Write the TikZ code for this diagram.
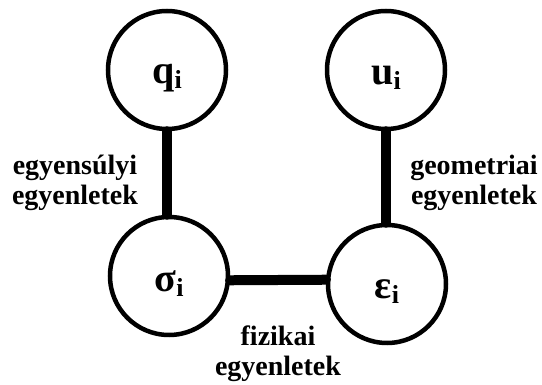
\documentclass[tikz,border=0pt]{standalone}
\usepackage{fontspec}
\setmainfont{Liberation Serif}
\usepackage{tikz}
\usetikzlibrary{positioning}

% subscript index, set low and large
\newcommand{\lowidx}[1]{\raisebox{-5pt}{\fontsize{26}{26}\selectfont #1}}
% variable name in a circle, pushed a bit below the centre
\newcommand{\varlab}[2]{\raisebox{-8pt}[\height][\depth]{#1\lowidx{#2}}}

\begin{document}
\begin{tikzpicture}[x=1pt,y=-1pt,
  vr/.style={draw,circle,line width=4.5pt,minimum size=118pt,inner sep=0pt,
    font=\fontsize{40}{40}\selectfont\bfseries},
  link/.style={line width=10pt,line cap=round},
  eq/.style={align=center,inner sep=0pt,font=\fontsize{28}{30}\selectfont\bfseries}]
\useasboundingbox (0,0) rectangle (542,385);
\node[vr] (q) at (167,70) {\varlab{q}{i}};
\node[vr] (u) at (386,70) {\varlab{u}{i}};
\node[vr] (s) at (169,276) {\varlab{σ}{i}};
\node[vr] (e) at (387,284) {\varlab{ε}{i}};
\draw[link] (q.south) -- (q.south |- s.north);
\draw[link] (u.south) -- (u.south |- e.north);
\draw[link] (s.-4) -- (e.176);
\node[eq] (eqL) at (75,183) {egyensúlyi\\egyenletek};
\node[eq] (eqR) at (474,183) {geometriai\\egyenletek};
\node[eq] (eqB) at (278,354) {fizikai\\egyenletek};
\end{tikzpicture}
\end{document}
